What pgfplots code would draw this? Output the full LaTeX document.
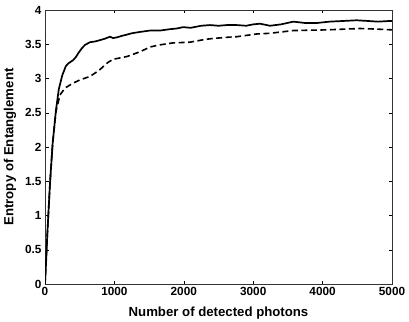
\documentclass[border=0pt]{standalone}
\usepackage{fontspec}
\setmainfont{Liberation Sans}
\usepackage{pgfplots}
\pgfplotsset{compat=1.18}
\usetikzlibrary{calc}

\begin{document}
\begin{tikzpicture}
  \begin{axis}[
    scale only axis,
    width=347pt, height=274pt,
    xmin=0, xmax=5000, ymin=0, ymax=4,
    xtick={0,1000,...,5000},
    ytick={0,0.5,...,4},
    tick align=inside,
    major tick length=3.5pt,
    axis line style={line width=0.8pt, black!80},
    tick style={line width=0.5pt, black},
    scaled x ticks=false,
    /pgf/number format/assume math mode=true,
    /pgf/number format/1000 sep={},
    tick label style={font=\fontsize{11.8}{13}\selectfont\bfseries},
    label style={font=\fontsize{13.2}{15}\selectfont\bfseries},
    xlabel={Number of detected photons},
    ylabel={Entropy of Entanglement},
    xlabel style={at={(axis description cs:0.5,-0.106)}, anchor=center},
    ylabel style={at={(axis description cs:-0.101,0.5)}, anchor=center},
  ]
  % solid curve
  \addplot[black, line width=1.7pt] coordinates {
    (0,0) (15,0.3) (34,0.74) (72,1.47) (110,2.05) (158,2.54) (200,2.85)
    (250,3.05) (300,3.18) (336,3.22) (408,3.27) (450,3.32) (480,3.37)
    (530,3.44) (576,3.49) (648,3.53) (720,3.54) (792,3.56) (860,3.58)
    (936,3.61) (980,3.59) (1033,3.60) (1100,3.62) (1177,3.64) (1250,3.66)
    (1369,3.68) (1513,3.70) (1657,3.70) (1800,3.72) (1900,3.73) (1989,3.75)
    (2100,3.74) (2250,3.77) (2378,3.78) (2500,3.77) (2620,3.78) (2762,3.78)
    (2900,3.77) (3000,3.79) (3098,3.80) (3242,3.77) (3400,3.79) (3578,3.83)
    (3750,3.81) (3915,3.81) (4100,3.83) (4300,3.84) (4491,3.85) (4650,3.84)
    (4800,3.83) (4971,3.84) (5000,3.84)
  };
  % dashed curve
  \addplot[black, line width=1.6pt, dash pattern=on 6pt off 3.5pt] coordinates {
    (0,0) (34,0.74) (72,1.47) (110,2.05) (158,2.52) (216,2.76) (288,2.86)
    (400,2.93) (504,2.98) (648,3.03) (780,3.12) (900,3.23) (980,3.28)
    (1177,3.32) (1369,3.39) (1513,3.46) (1650,3.49) (1844,3.52) (2089,3.53)
    (2250,3.56) (2378,3.58) (2600,3.60) (2762,3.61) (3050,3.65) (3242,3.66)
    (3578,3.70) (4059,3.71) (4539,3.73) (4800,3.72) (5000,3.71)
  };
  \end{axis}
  \pgfresetboundingbox
  \path[use as bounding box] ($(current axis.south west)+(-45pt,-37pt)$)
    rectangle ($(current axis.north east)+(17pt,10pt)$);
\end{tikzpicture}
\end{document}
